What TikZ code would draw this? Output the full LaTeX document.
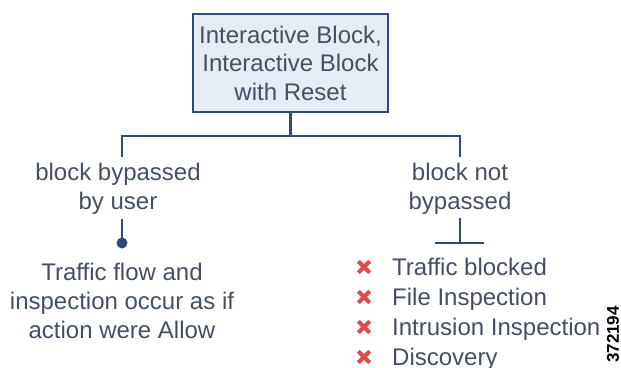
\documentclass[tikz,border=0pt]{standalone}
\usepackage{fontspec}
\setmainfont{Liberation Sans}
\definecolor{linec}{HTML}{2E4B78}
\definecolor{boxfill}{HTML}{E6ECF3}
\definecolor{txtc}{HTML}{444F61}
\definecolor{xred}{HTML}{E04A4D}
\tikzset{
  conn/.style={draw=linec, line width=2.8pt},
  mainbox/.style={draw=linec, line width=2.8pt, fill=boxfill, minimum width=195pt, minimum height=98pt, inner sep=0pt, align=center, text=txtc, font=\fontsize{24}{28.5}\selectfont},
  lbl/.style={align=center, text=txtc, inner sep=0pt, font=\fontsize{24}{29}\selectfont},
  item/.style={anchor=base west, text=txtc, inner sep=0pt, font=\fontsize{24}{29}\selectfont},
  xmark/.style={inner sep=0pt, minimum size=11pt},
  xstroke/.style={draw=xred, line width=4pt},
  pin/.style={circle, fill=linec, inner sep=0pt, minimum size=11pt},
  tag/.style={rotate=90, inner sep=0pt, text=black, font=\bfseries\fontsize{17}{17}\selectfont}
}
\begin{document}
\begin{tikzpicture}[x=1pt,y=-1pt]
\useasboundingbox (0,0) rectangle (621,367);
\node[mainbox] (top) at (290.5,63) {Interactive Block,\\Interactive Block\\with Reset};
\coordinate (j) at (290.5,136);
\coordinate (jl) at (122,136);
\coordinate (jr) at (460,136);
\coordinate (lend) at (122,157);
\coordinate (rend) at (460,157);
\draw[conn] (top.south) -- (j);
\draw[conn, line cap=rect] (jl) -- (jr);
\draw[conn] (jl) -- (lend);
\draw[conn] (jr) -- (rend);

\node[lbl] (lbl1) at (118,189) {block bypassed\\by user};
\node[lbl] (lbl2) at (460,189) {block not\\bypassed};

\coordinate (lstart) at (122,219);
\coordinate (dotc) at (122,243);
\draw[conn] (lstart) -- (dotc);
\node[pin] (dot) at (dotc) {};

\coordinate (rs) at (460,218);
\coordinate (rb) at (460,243);
\coordinate (rbl) at (435,243);
\coordinate (rbr) at (484,243);
\draw[conn] (rs) -- (rb);
\draw[conn] (rbl) -- (rbr);

\node[lbl] (allow) at (122,301) {Traffic flow and\\inspection occur as if\\action were Allow};

\foreach \i/\t in {0/Traffic blocked,1/File Inspection,2/Intrusion Inspection,3/Discovery}{
  \node[xmark] (x\i) at (364,267+30*\i) {};
  \draw[xstroke] (x\i.north west) -- (x\i.south east);
  \draw[xstroke] (x\i.north east) -- (x\i.south west);
  \node[item] (t\i) at (392,275.5+30*\i) {\t};
}
\node[tag] (id) at (613,334.5) {372194};
\end{tikzpicture}
\end{document}
